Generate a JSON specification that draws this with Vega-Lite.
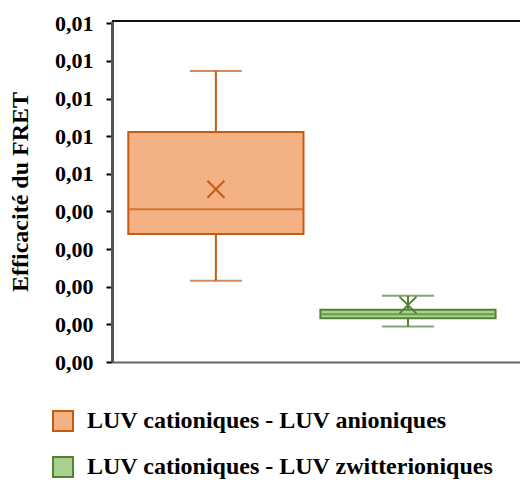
{
  "$schema": "https://vega.github.io/schema/vega-lite/v6.json",
  "autosize": "none",
  "padding": {"left": 112, "top": 21, "right": 0, "bottom": 118},
  "width": 408,
  "height": 341,
  "data": {"values": [
    {"group": "LUV cationiques - LUV anioniques", "min": 0.00216, "q1": 0.00340, "median": 0.00406, "q3": 0.00611, "max": 0.00773, "mean": 0.00459},
    {"group": "LUV cationiques - LUV zwitterioniques", "min": 0.00094, "q1": 0.00116, "median": 0.00127, "q3": 0.00139, "max": 0.00176, "mean": 0.00151}
  ]},
  "layer": [
    {
      "mark": {"type": "rule", "strokeWidth": 2},
      "encoding": {
        "x": {
          "field": "group", "type": "nominal",
          "scale": {"paddingInner": 0.088, "paddingOuter": 0.106, "align": 0.4},
          "axis": {"labels": false, "ticks": false, "title": null, "domainColor": "#666666", "domainWidth": 2}
        },
        "y": {"field": "min", "type": "quantitative",
          "scale": {"domain": [0, 0.00906], "nice": false, "zero": true},
          "axis": {
            "values": [0, 0.001, 0.002, 0.003, 0.004, 0.005, 0.006, 0.007, 0.008, 0.009],
            "tickCount": 10,
            "labelExpr": "replace(format(datum.value, '.2f'), '.', ',')",
            "labelFont": "Liberation Serif", "labelFontSize": 22, "labelFontWeight": "bold", "labelColor": "black",
            "labelPadding": 13, "labelFlush": false, "labelOverlap": false, "labelBound": false,
            "tickSize": 6, "tickWidth": 2, "tickColor": "black",
            "domainColor": "#555555", "domainWidth": 3, "grid": false,
            "title": "Efficacité du FRET", "titleFont": "Liberation Serif", "titleFontSize": 24,
            "titleFontWeight": "bold", "titleColor": "black", "titlePadding": 22
          }
        },
        "y2": {"field": "max"},
        "color": {"field": "group", "type": "nominal", "scale": {"range": ["#C55A11", "#548235"]}, "legend": null}
      }
    },
    {
      "mark": {"type": "tick", "thickness": 2, "size": 52},
      "encoding": {
        "x": {"field": "group", "type": "nominal"},
        "y": {"field": "min", "type": "quantitative", "title": "Efficacité du FRET"},
        "color": {"field": "group", "type": "nominal", "legend": null}
      }
    },
    {
      "mark": {"type": "tick", "thickness": 2, "size": 52},
      "encoding": {
        "x": {"field": "group", "type": "nominal"},
        "y": {"field": "max", "type": "quantitative", "title": "Efficacité du FRET"},
        "color": {"field": "group", "type": "nominal", "legend": null}
      }
    },
    {
      "mark": {"type": "bar", "strokeWidth": 2},
      "encoding": {
        "x": {"field": "group", "type": "nominal"},
        "y": {"field": "q1", "type": "quantitative", "title": "Efficacité du FRET"},
        "y2": {"field": "q3"},
        "fill": {"field": "group", "type": "nominal", "scale": {"range": ["#F4B183", "#A9D18E"]},
          "legend": {
            "orient": "none", "legendX": -61, "legendY": 388, "direction": "vertical", "padding": 0,
            "title": null, "symbolType": "square", "symbolSize": 400, "symbolStrokeWidth": 2,
            "labelFont": "Liberation Serif", "labelFontSize": 24, "labelFontWeight": "bold", "labelColor": "black",
            "labelOffset": 12, "labelLimit": 0, "rowPadding": 18
          }
        },
        "stroke": {"field": "group", "type": "nominal", "scale": {"range": ["#C55A11", "#548235"]},
          "legend": {
            "orient": "none", "legendX": -61, "legendY": 388, "direction": "vertical", "padding": 0,
            "title": null, "symbolType": "square", "symbolSize": 400, "symbolStrokeWidth": 2,
            "labelFont": "Liberation Serif", "labelFontSize": 24, "labelFontWeight": "bold", "labelColor": "black",
            "labelOffset": 12, "labelLimit": 0, "rowPadding": 18
          }
        }
      }
    },
    {
      "mark": {"type": "tick", "thickness": 2, "size": 173},
      "encoding": {
        "x": {"field": "group", "type": "nominal"},
        "y": {"field": "median", "type": "quantitative", "title": "Efficacité du FRET"},
        "color": {"field": "group", "type": "nominal", "legend": null}
      }
    },
    {
      "mark": {"type": "point", "filled": false, "strokeWidth": 2, "size": 289, "shape": "M-1,-1L1,1M-1,1L1,-1", "opacity": 1},
      "encoding": {
        "x": {"field": "group", "type": "nominal"},
        "y": {"field": "mean", "type": "quantitative", "title": "Efficacité du FRET"},
        "color": {"field": "group", "type": "nominal", "legend": null}
      }
    },
    {
      "mark": {"type": "rule", "strokeWidth": 1.5, "color": "black"},
      "encoding": {"y": {"datum": 0.00906, "type": "quantitative", "title": "Efficacité du FRET"}}
    }
  ],
  "config": {"view": {"stroke": null}, "font": "Liberation Serif"}
}
